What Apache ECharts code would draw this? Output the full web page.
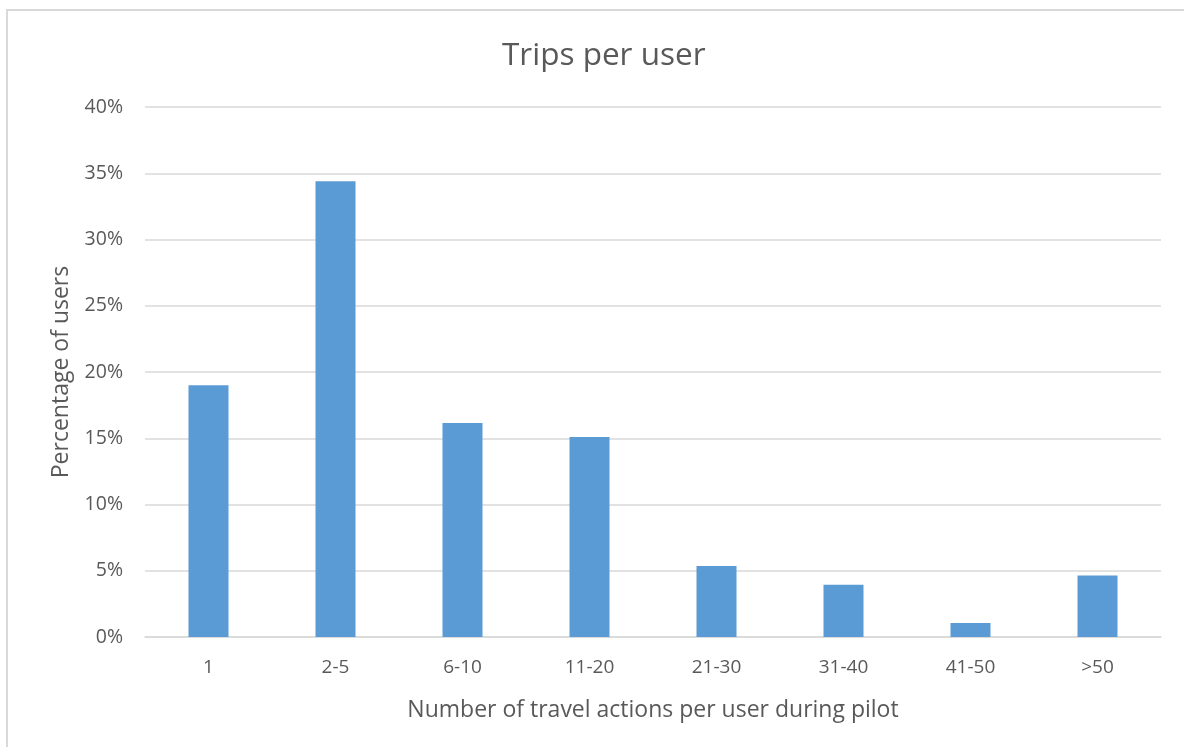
<!DOCTYPE html>
<html>
<head>
<meta charset="utf-8">
<script src="https://cdn.jsdelivr.net/npm/echarts@6/dist/echarts.min.js"></script>
<style>
  html, body { margin: 0; padding: 0; background: #fff; }
  #frame { position: absolute; left: 6px; top: 9px; width: 1300px; height: 900px;
           border-top: 2px solid #d9d9d9; border-left: 2px solid #d9d9d9; }
  #chart { position: absolute; left: 0; top: 0; width: 1184px; height: 747px; }
</style>
</head>
<body>
<div id="frame"></div>
<div id="chart"></div>
<script>
// Trip-count buckets and share of users in each
const categories = ['1', '2-5', '6-10', '11-20', '21-30', '31-40', '41-50', '>50'];
const shareOfUsers = [19.0, 34.4, 16.15, 15.1, 5.35, 3.95, 1.05, 4.65];

const textColor = '#595959';
const fontFamily = '"Open Sans", "Liberation Sans", sans-serif';

const chart = echarts.init(document.getElementById('chart'), null, { renderer: 'canvas' });
chart.setOption({
  backgroundColor: 'transparent',
  animation: false,
  title: {
    text: 'Trips per user',
    left: 497,
    top: 35,
    textStyle: { color: textColor, fontSize: 31.5, fontWeight: 'normal', fontFamily }
  },
  grid: { left: 145, right: 23, top: 107, bottom: 110, containLabel: false },
  xAxis: {
    type: 'category',
    data: categories,
    name: 'Number of travel actions per user during pilot',
    nameLocation: 'middle',
    nameGap: 62,
    nameTextStyle: { color: textColor, fontSize: 23, fontFamily },
    axisLine: { lineStyle: { color: '#d9d9d9', width: 1.5 } },
    axisTick: { show: false },
    axisLabel: { color: textColor, fontSize: 19, fontFamily, margin: 21 }
  },
  yAxis: {
    type: 'value',
    min: 0,
    max: 40,
    interval: 5,
    name: 'Percentage of users',
    nameLocation: 'middle',
    nameGap: 72,
    nameTextStyle: { color: textColor, fontSize: 23, fontFamily },
    axisLine: { show: false },
    axisTick: { show: false },
    splitLine: { lineStyle: { color: '#d9d9d9', width: 1.5 } },
    axisLabel: { color: textColor, fontSize: 19.5, fontFamily, margin: 22,
                 formatter: v => v + '%' }
  },
  series: [{
    type: 'bar',
    data: shareOfUsers,
    barWidth: 40,
    itemStyle: { color: '#5b9bd5' }
  }]
});
</script>
</body>
</html>
